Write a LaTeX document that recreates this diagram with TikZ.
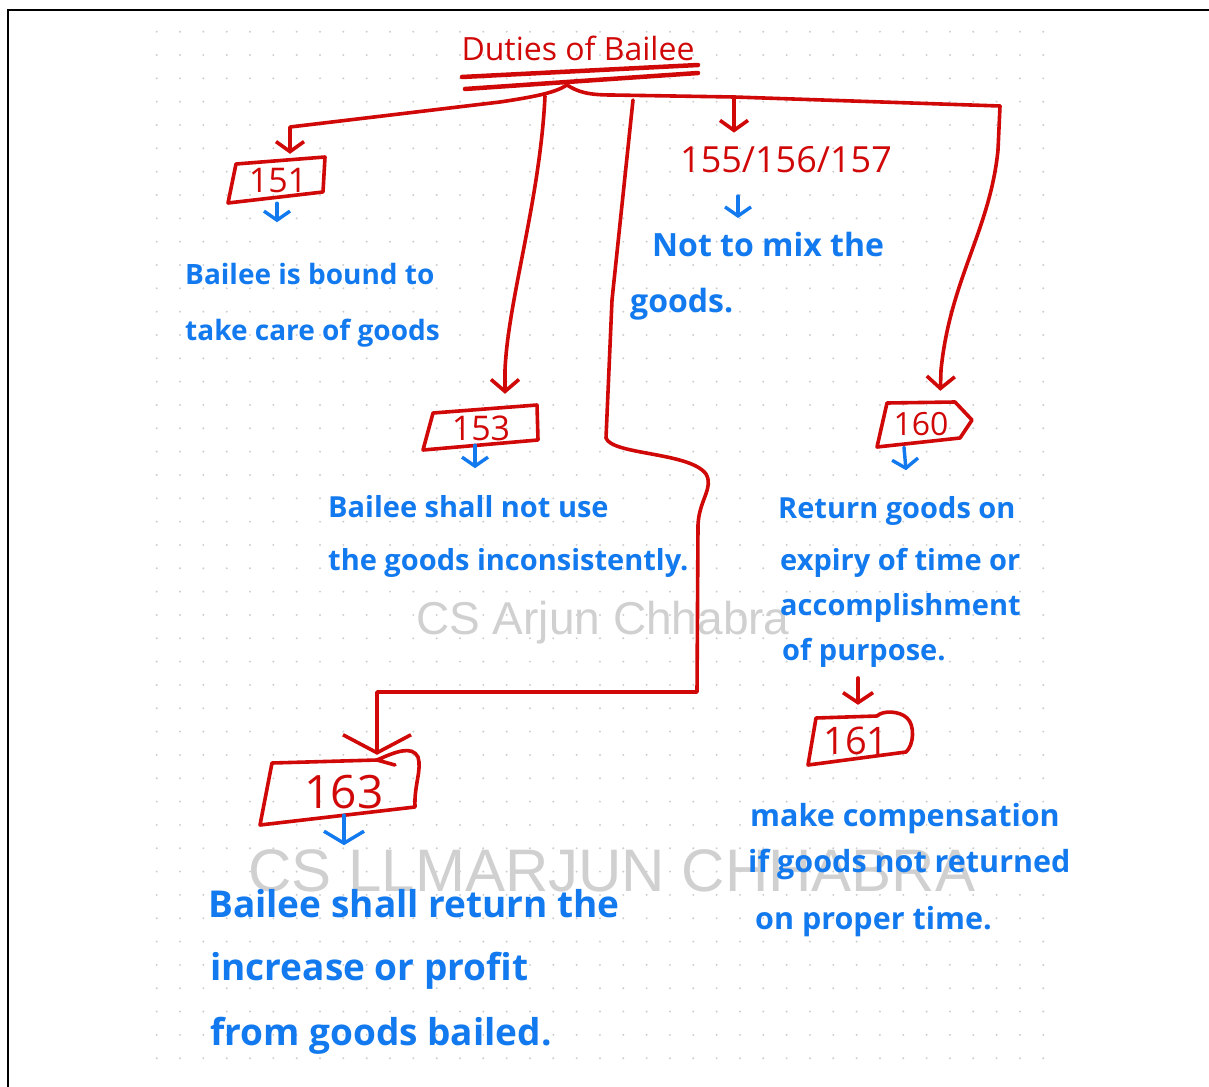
\documentclass[tikz,border=0pt]{standalone}
\usepackage{fontspec}
\setmainfont{Open Sans}
\newfontfamily\markfont{Liberation Sans}
\usetikzlibrary{arrows.meta}
\definecolor{penred}{RGB}{208,8,8}
\definecolor{penblue}{RGB}{18,122,238}
\definecolor{dotgray}{RGB}{205,205,205}
\definecolor{markgray}{RGB}{208,208,208}

\begin{document}
\begin{tikzpicture}[x=1pt,y=-1pt,
  redpen/.style={draw=penred,line width=3.6pt,line cap=round,line join=round},
  bluepen/.style={draw=penblue,line width=3.4pt,line cap=round,line join=round},
  redtip/.style={-{Straight Barb[length=#1,width=28pt]}},
  bluetip/.style={-{Straight Barb[length=9pt,width=26pt]}},
  numtext/.style={text=penred,inner sep=0pt,font=\fontsize{#1}{#1}\selectfont},
  boxnode/.style={inner sep=0pt,text=penred},
  note/.style={text=penblue,anchor=base west,inner sep=0pt,font=\bfseries\fontsize{#1}{#1}\selectfont},
  mark/.style={text=markgray,inner sep=0pt,font=\markfont\fontsize{#1}{#1}\selectfont}
]
% page
\useasboundingbox (0,0) rectangle (1209,1086);
\fill[white] (0,0) rectangle (1209,1086);
\draw[black,line width=2.5pt] (8,1095) -- (8,10) -- (1215,10);

% dotted paper
\foreach \i in {0,...,38}{
  \foreach \j in {0,...,44}{
    \fill[dotgray] (156.7+23.33*\i,31.7+23.33*\j) circle (1.1pt);
  }
}

% watermarks
\node[mark=46] (wm1) at (603,623) {CS Arjun Chhabra};
\node[mark=60] (wm2) at (612,871) {CS LLMARJUN CHHABRA};

% heading
\node[numtext=32] (title) at (578,48) {Duties of Bailee};
\draw[redpen,line width=4.5pt] (462,77) -- (698,65);
\draw[redpen,line width=4.5pt] (465,89) -- (698,73);
\coordinate (hub) at (567,85);

% section boxes
\node[boxnode,minimum width=92pt,minimum height=38pt,font=\fontsize{34}{34}\selectfont] (b151) at (278,181) {151};
\draw[redpen] (236,164) -- (325,157) -- (323,192) -- (228,203) -- cycle;

\node[numtext=36] (t155) at (786,160) {155/156/157};

\node[boxnode,minimum width=112pt,minimum height=40pt,font=\fontsize{34}{34}\selectfont] (b153) at (481,428) {153};
\draw[redpen] (433,413) -- (537,405) -- (538,440) -- (423,450) -- cycle;

\node[boxnode,minimum width=92pt,minimum height=42pt,font=\fontsize{32}{32}\selectfont] (b160) at (921,424) {160};
\draw[redpen] (887,403) -- (955,402) -- (972,420) -- (960,438) -- (877,447) -- cycle;

\node[boxnode,minimum width=100pt,minimum height=48pt,font=\fontsize{38}{38}\selectfont] (b161) at (856,741) {161};
\draw[redpen] (816,718) -- (877,716) .. controls (883,710) and (900,711) .. (907,718)
  .. controls (915,725) and (914,745) .. (906,752) -- (808,765) -- cycle;

\node[boxnode,minimum width=150pt,minimum height=62pt,font=\fontsize{46}{46}\selectfont] (b163) at (344,792) {163};
\draw[redpen] (377,760) -- (272,763) -- (260,825) -- (415,807)
  .. controls (414,785) and (422,770) .. (418,757)
  .. controls (412,745) and (395,752) .. (377,760) -- (395,765);

% branches from the heading
\coordinate (j153) at (545,96);
\coordinate (j155) at (734,97);
\coordinate (j163) at (633,100);
\coordinate (j160) at (1000,106);
\draw[redpen,redtip=10pt,shorten >=8pt] (hub) .. controls (556,92) and (540,96) .. (500,102)
  -- (290,127) -- ([xshift=12pt]b151.north);
\draw[redpen] (hub) .. controls (578,92) and (588,95) .. (612,95) -- (j155) -- (j160);
\draw[redpen,redtip=12pt,shorten >=12pt] (j160) -- (998,150)
  .. controls (990,230) and (950,280) .. (941,370) -- ([xshift=19pt]b160.north);
\draw[redpen,redtip=10pt,shorten >=14pt] (j155) -- (t155.north -| j155);
\draw[redpen,redtip=12pt,shorten >=14pt] (j153) .. controls (540,200) and (508,300) .. (505,370)
  -- ([xshift=24pt]b153.north);
\draw[redpen,-{Straight Barb[length=18pt,width=68pt]},shorten >=6pt] (j163) -- (612,300) -- (606,438)
  .. controls (612,455) and (690,452) .. (706,474)
  .. controls (714,488) and (699,500) .. (698,525) -- (697,692) -- (377,692)
  -- ([xshift=33pt]b163.north);

% explanatory notes
\node[note=28] (n151a) at (185,284) {Bailee is bound to};
\node[note=28] (n151b) at (185,340) {take care of goods};

\node[note=32] (n155a) at (652,256) {Not to mix the};
\node[note=32] (n155b) at (630,312) {goods.};

\node[note=29] (n153a) at (328,517) {Bailee shall not use};
\node[note=29] (n153b) at (328,570) {the goods inconsistently.};

\node[note=29] (n160a) at (778,518) {Return goods on};
\node[note=29] (n160b) at (780,570) {expiry of time or};
\node[note=29] (n160c) at (780,615) {accomplishment};
\node[note=29] (n160d) at (782,660) {of purpose.};

\node[note=30.5] (n161a) at (750,826) {make compensation};
\node[note=30.5] (n161b) at (748,872) {if goods not returned};
\node[note=30.5] (n161c) at (755,929) {on proper time.};

\node[note=37] (n163a) at (208,917) {Bailee shall return the};
\node[note=37] (n163b) at (210,980) {increase or profit};
\node[note=37] (n163c) at (210,1045) {from goods bailed.};

% short pointers under the boxes
\draw[bluepen,bluetip] ([xshift=-1pt,yshift=-3pt]b151.south) -- ([xshift=-1pt,yshift=-22pt]b151.south);
\coordinate (p155) at (738,196);
\draw[bluepen,bluetip] (p155) -- ([yshift=-22pt]p155);
\draw[bluepen,bluetip] ([xshift=-6pt,yshift=3pt]b153.south) -- ([xshift=-6pt,yshift=-20pt]b153.south);
\draw[bluepen,bluetip] ([xshift=-17pt,yshift=-2pt]b160.south) -- ([xshift=-15pt,yshift=-25pt]b160.south);
\draw[bluepen,-{Straight Barb[length=12pt,width=40pt]}] ([yshift=8pt]b163.south) -- ([yshift=-22pt]b163.south);
\coordinate (p161) at (858,678);
\draw[redpen,-{Straight Barb[length=10pt,width=30pt]}] (p161) -- ([yshift=12pt]b161.north -| p161);
\end{tikzpicture}
\end{document}
